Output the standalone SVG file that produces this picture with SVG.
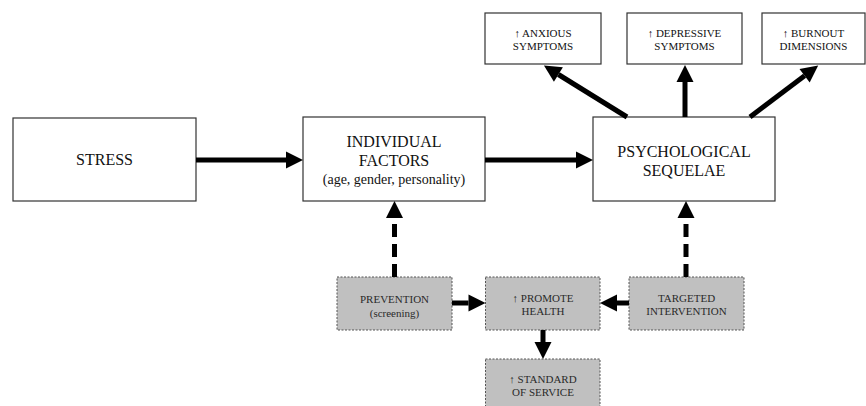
<svg xmlns="http://www.w3.org/2000/svg" width="866" height="406" viewBox="0 0 866 406">
<style>
.box{fill:#fff;stroke:#333;stroke-width:1.2}
.gbox{fill:#c0c0c0;stroke:#555;stroke-width:1;stroke-dasharray:2 1.5}
text{font-family:"Liberation Serif","Times New Roman",serif;text-anchor:middle;fill:#111}
.big{font-size:16px}
.mid{font-size:14px}
.sm{font-size:11px}
.g{fill:#2a2a2a}
.arr{stroke:#000;stroke-width:5;fill:none}
.dash{stroke-dasharray:13 7}
</style>
<defs>
<marker id="ah" markerUnits="userSpaceOnUse" markerWidth="17" markerHeight="17" refX="0" refY="8.5" orient="auto" overflow="visible">
<path d="M0,0 L17,8.5 L0,17 Z" fill="#000"/>
</marker>
</defs>
<g id="stress"><rect class="box" x="13" y="118" width="183" height="83"/><text class="big" x="104.5" y="165">STRESS</text></g>
<g id="individual"><rect class="box" x="303" y="117" width="182" height="84"/><text class="big" x="394" y="147">INDIVIDUAL</text><text class="big" x="394" y="166">FACTORS</text><text class="mid" x="394" y="184">(age, gender, personality)</text></g>
<g id="psych"><rect class="box" x="593" y="117" width="182" height="84"/><text class="big" x="684" y="157">PSYCHOLOGICAL</text><text class="big" x="684" y="176">SEQUELAE</text></g>
<g id="anxious"><rect class="box" x="485" y="13" width="116" height="51"/><text class="sm" x="543" y="37">↑ ANXIOUS</text><text class="sm" x="543" y="50">SYMPTOMS</text></g>
<g id="depressive"><rect class="box" x="627" y="13" width="115" height="51"/><text class="sm" x="684.5" y="37">↑ DEPRESSIVE</text><text class="sm" x="684.5" y="50">SYMPTOMS</text></g>
<g id="burnout"><rect class="box" x="762" y="13" width="103" height="51"/><text class="sm" x="813.5" y="37">↑ BURNOUT</text><text class="sm" x="813.5" y="50">DIMENSIONS</text></g>
<g id="prevention"><rect class="gbox" x="337" y="277" width="115" height="53"/><text class="sm g" x="394.5" y="303">PREVENTION</text><text class="sm g" x="394.5" y="317">(screening)</text></g>
<g id="promote"><rect class="gbox" x="485.5" y="277" width="114.5" height="53"/><text class="sm g" x="543" y="302">↑ PROMOTE</text><text class="sm g" x="543" y="315">HEALTH</text></g>
<g id="targeted"><rect class="gbox" x="629" y="277" width="115" height="53"/><text class="sm g" x="686.5" y="302">TARGETED</text><text class="sm g" x="686.5" y="315">INTERVENTION</text></g>
<g id="standard"><rect class="gbox" x="485.5" y="359" width="114.5" height="60"/><text class="sm g" x="543" y="383">↑ STANDARD</text><text class="sm g" x="543" y="396">OF SERVICE</text></g>
<g id="connectors">
<path class="arr" d="M196,160 H286" marker-end="url(#ah)"/>
<path class="arr" d="M485,160 H576" marker-end="url(#ah)"/>
<path class="arr" d="M627,117 L558.4,74.5" marker-end="url(#ah)"/>
<path class="arr" d="M685,117 V82" marker-end="url(#ah)"/>
<path class="arr" d="M750,117 L804.6,75.8" marker-end="url(#ah)"/>
<path class="arr dash" d="M394.5,277 V218" marker-end="url(#ah)"/>
<path class="arr dash" d="M686,277 V218" marker-end="url(#ah)"/>
<path class="arr" d="M452,303 H468.5" marker-end="url(#ah)"/>
<path class="arr" d="M629,303 H617" marker-end="url(#ah)"/>
<path class="arr" d="M543,330 V342" marker-end="url(#ah)"/>
</g>
</svg>
